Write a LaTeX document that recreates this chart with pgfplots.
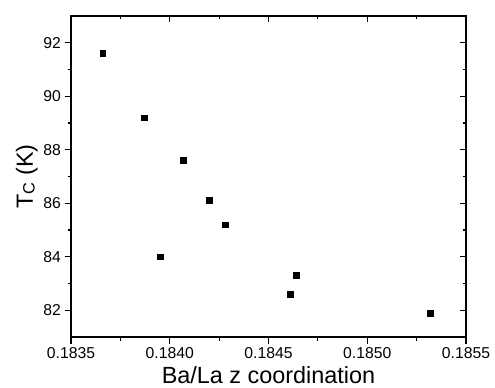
\documentclass[border=0pt]{standalone}
\usepackage{fontspec}
\setmainfont{Liberation Sans}
\usepackage{pgfplots}
\pgfplotsset{compat=1.18}
\begin{document}
\begin{tikzpicture}
\useasboundingbox (-71bp,-51bp) rectangle (424bp,337bp);
\pgfplotsset{
  common/.style={
    width=395bp, height=321bp, scale only axis,
    xmin=0.1835, xmax=0.1855, ymin=81, ymax=93,
    xtick={0.1835,0.1840,0.1845,0.1850,0.1855},
    ytick={82,84,86,88,90,92},
    minor x tick num=1, minor y tick num=1,
    scaled x ticks=false, scaled y ticks=false,
    major tick length=6.5bp, minor tick length=3.5bp,
    every tick/.style={black, line width=1.1bp},
    axis line style={line width=1.2bp},
  }
}
\begin{axis}[common,
    at={(0,0)}, anchor=south west,
    tick align=outside,
    xtick pos=left, ytick pos=left,
    /pgf/number format/assume math mode=true,
    xticklabel style={/pgf/number format/.cd, fixed, fixed zerofill, precision=4},
    yticklabel style={/pgf/number format/.cd, fixed, precision=0},
    tick label style={font=\fontsize{15.8}{16}\selectfont},
    label style={font=\fontsize{23.5}{25}\selectfont},
    xlabel={Ba/La z coordination},
    ylabel={T\raisebox{-0.15ex}{\fontsize{16.5}{17}\selectfont C} (K)},
    xlabel style={at={(axis description cs:0.5,0)}, anchor=base, yshift=-46bp},
    ylabel style={yshift=-1bp},
  ]
\addplot[only marks, mark=square*, mark size=2.9bp, black] coordinates {
  (0.18366,91.6)
  (0.18387,89.2)
  (0.18407,87.6)
  (0.18420,86.1)
  (0.18428,85.2)
  (0.18395,84.0)
  (0.18464,83.3)
  (0.18461,82.6)
  (0.18532,81.9)
};
\end{axis}
\begin{axis}[common,
    at={(0,0)}, anchor=south west,
    tick align=inside,
    xtick pos=right, ytick pos=right,
    xticklabels={}, yticklabels={},
  ]
\end{axis}
\end{tikzpicture}
\end{document}
